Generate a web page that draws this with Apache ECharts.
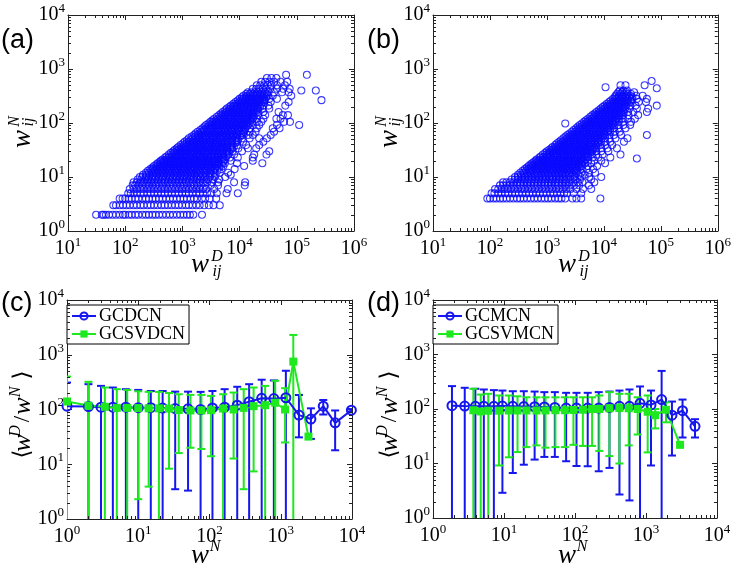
<!DOCTYPE html>
<html><head><meta charset="utf-8">
<script src="https://cdn.jsdelivr.net/npm/echarts/dist/echarts.min.js"></script>
<style>html,body{margin:0;padding:0;background:#fff}#c{width:734px;height:570px}</style>
</head><body><div id="c"></div>
<script>
// ---------- panel (a): w_ij^N vs w_ij^D (GCDCN), rows of [w^N, [w^D ...]] ----------
const rowsA = [
[2,[31,39,42,46,52,60,69,80,92,100,115,130,150,170,200,230,260,300,340,390,450,520,600,690,800,920,1050,1200,1350,1550,2200]],
[3,[62,69,80,92,105,120,140,160,185,210,245,280,320,370,430,490,560,650,750,860,990,1150,1300,1500,1750,2000,2400,2900,3500,4500]],
[4,[80,90,100,115,130,150,170,200,230,260,300,340,390,450,520,600,690,800,920,1050,1200,1400,1600,1800,2200,2500,3000,3900]],
[5,[113,125,140,160,185,210,245,280,320,370,430,490,560,650,750,860,990,1150,1300,1500,1750,2000,2300,2700,3200,4000,5900,9300]],
[6,[120,140,160,185,210,245,280,320,370,430,490,560,650,750,860,990,1150,1300,1500,1750,2000,2300,2600,3600,6200]],
[7,[135,150,170,200,230,260,300,340,390,450,520,600,690,800,920,1050,1200,1400,1600,1800,2100,2500,3100,4200,12300]],
[8,[140,160,185,210,245,280,320,370,430,490,560,650,750,860,990,1150,1300,1500,1750,2000,2300,2700,3300,4200,8000,12500]],
[9,[165,190,220,250,290,330,380,440,500,580,670,770,880,1000,1150,1350,1550,1800,2050,2400,2800,3400,4400]],
[10,[180,200,230,260,300,340,390,450,520,600,690,800,920,1050,1200,1400,1600,1800,2100,2500,3000,3700,5600]],
[11,[205,235,270,310,360,410,470,540,620,720,830,950,1100,1250,1450,1650,1900,2200,2600,3100,3800,7000]],
[12,[230,260,300,340,390,450,520,600,690,800,920,1050,1200,1400,1600,1800,2100,2500,3000,3600,4500,6300]],
[13,[250,285,330,380,435,500,575,660,760,870,1000,1150,1320,1520,1750,2000,2300,2650,3050,3500,4100]],
[14,[275,310,360,410,470,540,620,720,830,950,1100,1250,1450,1650,1900,2200,2600,3100,3700,4800,8200]],
[15,[300,345,395,455,520,600,690,790,910,1050,1200,1380,1590,1830,2100,2420,2780,3200,3700,4400]],
[16,[320,370,430,490,560,650,750,860,990,1150,1300,1500,1750,2000,2300,2700,3200,4000,5200,12000]],
[17,[350,400,460,530,610,700,800,920,1060,1220,1400,1610,1850,2130,2450,2820,3250,3750,4300,4900]],
[18,[370,420,480,550,640,730,840,970,1100,1300,1500,1700,1950,2250,2600,3000,3600,4300,5500,9000,25000]],
[19,[400,460,530,610,700,800,920,1060,1220,1400,1610,1850,2130,2450,2820,3250,3750,4300,5100]],
[20,[420,480,550,640,730,840,970,1100,1300,1500,1700,1950,2250,2600,3000,3500,4200,5200,7000,17000]],
[21,[450,520,600,690,790,910,1050,1200,1380,1590,1830,2100,2420,2780,3200,3700,4250,4900,5600]],
[23,[500,570,650,750,860,990,1150,1300,1500,1750,2000,2300,2700,3100,3600,4300,5200,6800,9300,17000]],
[24,[530,610,700,800,920,1060,1220,1400,1610,1850,2130,2450,2820,3250,3750,4300,5000,5900]],
[26,[580,660,760,870,1000,1150,1300,1500,1750,2000,2300,2700,3100,3600,4200,5000,6300,8000,18000,29500]],
[28,[630,720,830,950,1100,1260,1450,1670,1920,2200,2530,2910,3350,3850,4450,5100,5900,6600]],
[30,[690,790,910,1050,1200,1400,1600,1850,2100,2400,2800,3200,3700,4300,5000,6000,7500,11000,33000]],
[32,[740,850,980,1130,1300,1490,1710,1970,2270,2610,3000,3450,3970,4560,5250,6050,7000]],
[34,[800,920,1050,1200,1400,1600,1850,2100,2400,2800,3200,3700,4300,5000,6000,7400,9500,14000,19500]],
[36,[850,980,1130,1300,1490,1710,1970,2270,2610,3000,3450,3970,4560,5250,6050,7000,7900]],
[39,[930,1070,1250,1450,1650,1900,2200,2500,2900,3300,3800,4400,5100,6000,7200,9000,13000,22000]],
[42,[1030,1180,1360,1560,1800,2070,2380,2740,3150,3620,4160,4790,5500,6330,7280,8400]],
[45,[1100,1300,1500,1700,1950,2250,2600,3000,3400,3900,4500,5200,6100,7300,9000,11500,26000]],
[48,[1200,1380,1590,1830,2100,2420,2780,3200,3680,4230,4860,5590,6430,7400,8500,9400]],
[52,[1300,1500,1750,2000,2300,2650,3050,3500,4000,4600,5300,6200,7300,8800,11000,15000,22000,30000]],
[56,[1450,1670,1920,2200,2530,2910,3350,3850,4430,5090,5860,6740,7750,8900,10200]],
[60,[1600,1850,2100,2400,2800,3200,3700,4200,4900,5600,6500,7600,9000,11000,14000,17000,35000]],
[64,[1700,1960,2250,2590,2980,3430,3940,4530,5210,5990,6890,7920,9110,10500,11500]],
[69,[1850,2150,2450,2800,3250,3700,4300,4900,5700,6500,7500,8700,10000,12000,15000,19000,40000]],
[74,[2050,2360,2710,3120,3590,4130,4750,5460,6280,7220,8300,9550,11000,12400]],
[80,[2250,2600,3000,3400,3900,4500,5200,6000,6900,8000,9200,10500,12500,15000,20000,38000,50000]],
[86,[2450,2820,3240,3730,4290,4930,5670,6520,7500,8620,9910,11400,13200]],
[92,[2600,3000,3500,4000,4600,5300,6100,7000,8100,9300,10500,12000,14000,17000,22000,45000,110000]],
[98,[2850,3280,3770,4340,4990,5740,6600,7590,8730,10000,11500,13200,14800]],
[105,[3100,3500,4000,4600,5300,6100,7000,8100,9300,10700,12300,14000,16500,20000,24000,60000,76000]],
[112,[3350,3850,4430,5090,5860,6740,7750,8910,10200,11800,13500,15600]],
[120,[3600,4200,4800,5500,6300,7200,8300,9500,11000,12500,14500,17000,20000,26000,44000,52000]],
[130,[4000,4600,5290,6080,6990,8040,9250,10600,12200,14000,16100,17800]],
[140,[4400,5000,5700,6600,7600,8700,10000,11500,13000,15000,17500,21000,28000,57000,70000]],
[150,[4750,5460,6280,7220,8300,9550,11000,12600,14500,16700,19000]],
[160,[5100,5900,6700,7700,8900,10200,11700,13500,15500,17800,21000,26000,48000]],
[172,[5600,6440,7410,8520,9800,11300,13000,14900,17100,19700]],
[185,[6000,6900,7900,9100,10500,12000,13800,15800,18200,21000,25000,33000]],
[197,[6600,7590,8730,10000,11500,13300,15300,17600,20200,22700]],
[210,[7100,8100,9300,10700,12300,14100,16200,18600,21500,26000,32000,63000]],
[227,[7800,8970,10300,11900,13600,15700,18000,20700,23800]],
[245,[8500,9800,11200,12900,14800,17000,19500,22500,27000,35000,72000]],
[262,[9300,10700,12300,14100,16200,18700,21500,24700,27500]],
[265,[270000]],
[280,[10000,11500,13200,15200,17500,20000,23000,27000,33000,45000]],
[300,[11000,12700,14600,16700,19200,22100,25400,29000]],
[320,[11700,13500,15500,17800,20500,23500,27000,31000,38000,80000]],
[345,[13000,15000,17200,19800,22700,26200,30000]],
[370,[14000,16000,18500,21000,24500,28000,32000,40000,55000,72000]],
[400,[120000,215000]],
[430,[17000,19500,22000,25500,29000,34000,45000,58000,75000]],
[500,[20000,23000,27000,31000,36000,45000,62000]],
[580,[24000,28000,33000,40000,52000,68000]],
[680,[30000,36000,44000]],
[780,[65000,150000]]
];
// ---------- panel (b): GCMCN ----------
const rowsB = [
[4,[90,100,115,130,150,170,195,225,260,300,340,390,450,520,600,690,800,920,1050,1200,1400,1600,1800,2100,2800,3300,4000,8700]],
[5,[107,120,140,160,185,210,245,280,320,370,430,490,560,650,750,860,990,1150,1300,1500,1750,2000,2250,2950,4000]],
[6,[123,140,160,180,205,235,270,310,360,410,470,540,620,720,830,950,1100,1250,1450,1650,1900,2200,2600,3300,4300,6000]],
[7,[150,170,195,225,260,300,340,390,450,520,600,690,800,920,1050,1200,1400,1600,1850,2150,2500,3000,3700,5500]],
[8,[170,195,225,260,300,340,390,450,520,600,690,800,920,1050,1200,1400,1600,1850,2150,2500,2900,3500,4200,6800]],
[9,[240,275,310,360,410,470,540,620,720,830,950,1100,1250,1450,1650,1900,2200,2600,3100,3800,6000]],
[10,[275,310,360,410,470,540,620,720,830,950,1100,1250,1450,1650,1900,2200,2600,3100,3900,5500,9000]],
[11,[310,350,400,460,530,610,700,800,920,1050,1200,1400,1600,1850,2100,2450,2900,3600,4600]],
[12,[340,390,450,520,600,690,800,920,1050,1200,1400,1600,1850,2100,2450,2800,3300,4000,5500,7000]],
[13,[375,430,500,570,660,760,870,1000,1150,1320,1520,1750,2010,2310,2660,3060,3300]],
[14,[410,470,540,620,720,830,950,1100,1250,1450,1650,1900,2200,2500,2900,3400,4100,5000,6500]],
[15,[445,510,590,680,780,900,1030,1190,1370,1570,1810,2080,2390,2750,3160,3700]],
[16,[480,550,640,730,840,970,1100,1300,1500,1700,1950,2250,2600,3000,3500,4200,5200,7600]],
[17,[515,590,680,780,900,1030,1190,1370,1570,1810,2080,2390,2750,3160,3640,4100]],
[18,[550,630,720,830,950,1100,1250,1450,1650,1900,2200,2500,2900,3300,3900,4700,6000,10500]],
[19,[590,680,780,900,1030,1190,1370,1570,1810,2080,2390,2750,3160,3640,4200]],
[20,[630,720,830,950,1100,1250,1450,1650,1900,2200,2500,2900,3300,3800,4400,5300,6800,9000]],
[21,[660,760,870,1000,1150,1320,1520,1750,2010,2310,2660,3060,3520,4050,4700]],
[22,[38000]],
[23,[740,850,980,1100,1300,1500,1700,1950,2250,2600,3000,3400,3900,4500,5200,6400,8000,13000]],
[24,[780,900,1030,1190,1370,1570,1810,2080,2390,2750,3160,3640,4180,4800,5300]],
[26,[850,980,1100,1300,1500,1700,1950,2250,2600,3000,3400,3900,4500,5200,6100,7400,9500,19600]],
[28,[935,1080,1240,1420,1640,1880,2160,2490,2860,3290,3780,4350,5000,5800]],
[30,[1000,1150,1300,1500,1750,2000,2300,2650,3050,3500,4000,4600,5300,6200,7300,9000,12000]],
[32,[1100,1270,1460,1680,1930,2220,2550,2930,3370,3880,4460,5130,5900,6500]],
[34,[1200,1350,1550,1800,2050,2350,2700,3100,3600,4100,4700,5400,6300,7400,9000,11500,17000]],
[36,[1260,1450,1670,1920,2200,2530,2910,3350,3850,4430,5090,5860,6740]],
[39,[1400,1600,1850,2100,2400,2800,3200,3700,4200,4800,5500,6400,7400,8700,10500,14000]],
[42,[1510,1740,2000,2300,2640,3040,3500,4020,4620,5310,6110,7030,7900]],
[45,[1650,1900,2200,2500,2900,3300,3800,4400,5000,5800,6700,7700,9000,10500,13000,22500]],
[48,[1770,2040,2340,2690,3100,3560,4090,4710,5410,6220,7160,8230]],
[52,[1950,2250,2600,3000,3400,3900,4500,5200,6000,6900,7900,9100,10500,12500,16000,26000]],
[56,[2130,2450,2820,3240,3730,4290,4930,5670,6520,7500,8620,9700]],
[60,[2300,2650,3050,3500,4000,4600,5300,6100,7000,8100,9300,10700,12500,15000,20000,57000]],
[64,[2500,2880,3310,3800,4370,5030,5780,6650,7650,8800,10100]],
[69,[2750,3150,3600,4200,4800,5500,6300,7300,8400,9700,11200,13000,15500,19000]],
[74,[2960,3400,3910,4500,5180,5950,6850,7870,9050,10400,12000]],
[80,[3250,3700,4300,4900,5600,6500,7500,8600,9900,11400,13100,15000,18000,24000]],
[86,[3530,4060,4670,5370,6170,7100,8160,9390,10800,12400]],
[92,[3800,4400,5000,5800,6700,7700,8800,10100,11600,13400,15400,18000,22000,29000]],
[98,[2100,4130,4750,5460,6280,7220,8310,9550,11000,12600,14500]],
[105,[4500,5200,6000,6900,7900,9100,10500,12000,13800,15900,18300,21700,30000]],
[112,[4850,5580,6410,7380,8480,9750,11200,12900,14800,16000]],
[120,[5300,6100,7000,8000,9200,10600,12200,14000,16100,18500,21500,26000,35000]],
[130,[5780,6650,7650,8790,10100,11600,13400,15400,17700]],
[140,[6300,7200,8300,9500,10900,12500,14400,16500,19000,22000,27000,40000]],
[150,[6900,7940,9130,10500,12100,13900,16000,18400,20000]],
[160,[7400,8500,9800,11200,12900,14800,17000,19500,22500,26500,33000,57000]],
[172,[8140,9360,10800,12400,14200,16400,18800,21600]],
[185,[8900,10200,11700,13500,15500,17800,20500,23500,28000,38000,60000]],
[197,[9550,11000,12600,14500,16700,19200,22000,24300]],
[210,[10300,11800,13600,15600,18000,20700,24000,29000,36000,85000]],
[227,[11300,13000,14900,17200,19800,22700,26100]],
[245,[12400,14300,16400,18800,21600,25000,30000,41000,55000]],
[262,[13400,15400,17700,20400,23400,26900,30000]],
[280,[14500,16700,19200,22000,25500,31000,38000,57000]],
[300,[15800,18200,20900,24000,27600,31800]],
[320,[16000,18500,21000,24500,29000,37000,48000]],
[345,[17000,19500,22500,26000,30000]],
[370,[18000,21000,25000,34000]],
[400,[19000,22000,25500]],
[440,[85000]],
[460,[10700]],
[500,[19600,24000,52000]],
[600,[69000]]
];
// ---------- panel (c) ----------
const cNames = ['GCDCN', 'GCSVDCN'];
const cBlueX  = [1,2,3,4.4,6.7,10,15,22,33,50,75,110,163,245,360,540,800,1180,1800,2650,3950,5800,9800];
const cBlueY  = [115,113,110,110,110,108,108,106,104,103,100,107,110,120,139,160,158,164,79,67,115,57,97];
const cBlueHi = [310,290,270,252,235,228,218,218,212,212,210,218,235,260,290,350,340,510,184,105,149,96,102];
const cBlueLo = [0,0,0,0,0,0,0,0,3.5,3.3,0,0,0,0,0,0,0,0,31,29,81,18,92];
const cGreenX  = [1,2,3.4,5,7,10,14,19.5,27,37,54,77,105,155,218,302,416,604,835,1150,1500,2450];
const cGreenY  = [140,118,112,107,107,106,105,105,104,98,96,96,97,104,100,107,115,120,133,100,750,32];
const cGreenHi = [400,320,252,235,228,215,210,210,200,190,185,185,177,190,204,235,252,270,335,245,2300,32];
const cGreenLo = [0,0,0,0,0,2.3,3.9,0,8.3,16,20,19,14,0,12.7,3.5,7.4,0,0,25,0,32];
// ---------- panel (d) ----------
const dNames = ['GCMCN', 'GCSVMCN'];
const dBlueX  = [1.85,2.8,3.95,5.2,7.2,9.5,13.3,19,27,37,52,75,105,151,216,306,423,585,824,1175,1660,2320,3270,4900];
const dBlueY  = [115,113,112,112,112,113,112,111,110,109,107,104,104,104,104,107,112,112,127,119,149,77,93,48];
const dBlueHi = [263,245,235,228,222,218,212,212,209,204,204,198,198,198,204,209,218,228,259,218,500,137,149,65];
const dBlueLo = [0,0,0,0,0,2.9,6.7,9.5,11.8,13.2,13.2,11,9,8.9,7.2,8.3,2.7,2.1,0,9.2,0,14,30,30];
const dGreenX  = [3.7,4.7,6.0,8.5,11.7,15.5,20.7,28.7,38.4,53,72,95,129,174,220,305,422,571,764,1056,1350,1910,3020];
const dGreenY  = [95,90,93,93,94,94,94,94,94,95,95,96,97,100,100,103,104,103,100,89,77,97,22];
const dGreenHi = [235,184,190,177,177,171,164,164,164,164,164,164,164,164,177,204,190,190,164,177,100,133,22];
const dGreenLo = [0,0,0,9.2,13,16.2,20,21.5,19.5,20,20,22,21,21,17,13.7,10,21.5,34,16,44,57,22];
// ---------- axes ----------
const xRanges = [[10,1e6],[10,1e6],[1,1e4],[1,1e4]];
const yRanges = [[1,1e4],[1,1e4],[1,1e4],[1,1e4]];

const SERIF = 'Liberation Serif, "DejaVu Serif", serif';
const BLUE = '#1616ee', GREEN = '#1ee81e', SCAT = '#0a0aff', AX = '#222';
const grids = [
  {left:68, top:15, width:286, height:216},
  {left:433, top:15, width:285, height:216},
  {left:67, top:300, width:285, height:219},
  {left:433, top:300, width:284, height:218}
];
const labelRich = {
  b: {fontFamily: SERIF, fontSize: 20, color: '#000'},
  s: {fontFamily: SERIF, fontSize: 13, color: '#000', padding: [0,0,13,0]}
};
const fmt = v => '{b|10}{s|' + Math.round(Math.log10(v)) + '}';
const xAxes = [], yAxes = [];
grids.forEach((g, i) => {
  const base = {type:'log', logBase:10, gridIndex:i, splitLine:{show:false},
    axisLine:{show:true, onZero:false, lineStyle:{color:AX, width:1}},
    axisTick:{show:true, inside:true, length:5, lineStyle:{color:AX}}};
  xAxes.push(Object.assign({}, base, {min:xRanges[i][0], max:xRanges[i][1], position:'bottom',
    axisLabel:{formatter:fmt, rich:labelRich, margin:5, showMinLabel:true, showMaxLabel:true}}));
  xAxes.push(Object.assign({}, base, {min:xRanges[i][0], max:xRanges[i][1], position:'top', axisLabel:{show:false}}));
  yAxes.push(Object.assign({}, base, {min:yRanges[i][0], max:yRanges[i][1], position:'left',
    axisLabel:{formatter:fmt, rich:labelRich, margin:3, showMinLabel:true, showMaxLabel:true}}));
  yAxes.push(Object.assign({}, base, {min:yRanges[i][0], max:yRanges[i][1], position:'right', axisLabel:{show:false}}));
});

function minorTicks(gi) {
  const xe = xRanges[gi].map(v => Math.round(Math.log10(v)));
  const ye = yRanges[gi].map(v => Math.round(Math.log10(v)));
  return {
    type:'custom', xAxisIndex:2*gi, yAxisIndex:2*gi, silent:true, z:10, clip:false,
    data:[[xRanges[gi][0], yRanges[gi][0]]],
    renderItem:(params, api) => {
      const cs = params.coordSys, ch = [], L = 3;
      const ln = (x1,y1,x2,y2) => ({type:'line', shape:{x1,y1,x2,y2}, style:{stroke:AX, lineWidth:1}});
      for (let e = xe[0]; e < xe[1]; e++) for (let m = 2; m <= 9; m++) {
        const px = Math.round(api.coord([m*Math.pow(10,e), yRanges[gi][0]])[0]) + 0.5;
        ch.push(ln(px, cs.y+cs.height, px, cs.y+cs.height-L));
        ch.push(ln(px, cs.y, px, cs.y+L));
      }
      for (let e = ye[0]; e < ye[1]; e++) for (let m = 2; m <= 9; m++) {
        const py = Math.round(api.coord([xRanges[gi][0], m*Math.pow(10,e)])[1]) + 0.5;
        ch.push(ln(cs.x, py, cs.x+L, py));
        ch.push(ln(cs.x+cs.width, py, cs.x+cs.width-L, py));
      }
      return {type:'group', children:ch};
    }
  };
}

function scatterSeries(rows, gi) {
  const data = [];
  rows.forEach(([y, xs]) => xs.forEach(x => data.push([x, y])));
  return {type:'scatter', xAxisIndex:2*gi, yAxisIndex:2*gi, data, symbol:'circle', symbolSize:7,
    itemStyle:{color:'rgba(0,0,0,0)', borderColor:SCAT, borderWidth:1.05}, silent:true,
    progressive:0, large:false, animation:false};
}

function errSeries(name, xs, lo, hi, color, gi) {
  return {
    type:'custom', name, xAxisIndex:2*gi, yAxisIndex:2*gi, clip:true, silent:true,
    encode:{x:0, y:2},
    data: xs.map((x, i) => [x, lo[i], hi[i]]),
    renderItem:(params, api) => {
      const x = api.value(0), l = api.value(1), h = api.value(2);
      if (!(h > l)) return null;
      const pt = api.coord([x, h]);
      const pb = api.coord([x, l > 0 ? l : 1e-3]);
      const cw = 4, st = {stroke:color, lineWidth:2};
      const ch = [
        {type:'line', shape:{x1:pt[0], y1:pt[1], x2:pb[0], y2:pb[1]}, style:st},
        {type:'line', shape:{x1:pt[0]-cw, y1:pt[1], x2:pt[0]+cw, y2:pt[1]}, style:st}
      ];
      if (l > 0) ch.push({type:'line', shape:{x1:pb[0]-cw, y1:pb[1], x2:pb[0]+cw, y2:pb[1]}, style:st});
      return {type:'group', children:ch};
    }
  };
}

function lineSeries(name, xs, ys, color, gi, square) {
  return {
    type:'line', name, xAxisIndex:2*gi, yAxisIndex:2*gi, data: xs.map((x, i) => [x, ys[i]]),
    symbol: square ? 'rect' : 'circle', symbolSize: square ? 8 : 9,
    lineStyle:{color, width:2},
    itemStyle: square ? {color, borderColor:color, borderWidth:0} : {color:'rgba(255,255,255,0)', borderColor:color, borderWidth:2},
    clip:true, silent:true, animation:false
  };
}

const series = [
  scatterSeries(rowsA, 0), scatterSeries(rowsB, 1),
  errSeries('e1', cBlueX, cBlueLo, cBlueHi, BLUE, 2),
  lineSeries(cNames[0], cBlueX, cBlueY, BLUE, 2, false),
  errSeries('e2', cGreenX, cGreenLo, cGreenHi, GREEN, 2),
  lineSeries(cNames[1], cGreenX, cGreenY, GREEN, 2, true),
  errSeries('e3', dBlueX, dBlueLo, dBlueHi, BLUE, 3),
  lineSeries(dNames[0], dBlueX, dBlueY, BLUE, 3, false),
  errSeries('e4', dGreenX, dGreenLo, dGreenHi, GREEN, 3),
  lineSeries(dNames[1], dGreenX, dGreenY, GREEN, 3, true),
  minorTicks(0), minorTicks(1), minorTicks(2), minorTicks(3)
];

const legendBase = {orient:'vertical', top:305, backgroundColor:'#fff', borderColor:'#000', borderWidth:1,
  borderRadius:0, padding:[2,4,1,4], itemGap:0, itemWidth:24, itemHeight:9,
  textStyle:{fontFamily:SERIF, fontSize:18, color:'#000', lineHeight:13, padding:[0,0,0,-2]}, selectedMode:false};

// ---------- titles (graphic text) ----------
const SANS = 'Liberation Sans, Arial, sans-serif';
function txt(x, y, text, size, extra) {
  return {type:'text', x, y, silent:true, style:Object.assign({text, fontFamily:SERIF, fontSize:size, fill:'#000',
    align:'center', verticalAlign:'middle', textAlign:'center', textVerticalAlign:'middle'}, extra||{})};
}
const IT = {fontStyle:'italic'};
function wijTitleX(dx, sup) {
  return [txt(200+dx, 265, 'w', 27, IT), txt(217+dx, 257, sup, 16, IT), txt(217+dx, 272, 'ij', 16, IT)];
}
function wijTitleY(x0, sup) {
  return {type:'group', x:x0, y:139, rotation:Math.PI/2, children:[
    txt(0, 0, 'w', 27, IT), txt(17.5, -7.5, sup, 16, IT), txt(17, 6, 'ij', 16, IT)]};
}
function ratioTitleY(x0) {
  return {type:'group', x:x0, y:459, rotation:Math.PI/2, children:[
    txt(5, 0, '\u27E8', 23), txt(16, 0, 'w', 26, IT), txt(28, -7, 'D', 16, IT),
    txt(40, 0, '/', 23), txt(53, 0, 'w', 26, IT), txt(67, -7, 'N', 16, IT), txt(84, 0, '\u27E9', 23)]};
}
function wnTitleX(dx) {
  return [txt(200+dx, 556, 'w', 27, IT), txt(215+dx, 547, 'N', 16, IT)];
}
const panelLabels = ['(a)', '(b)', '(c)', '(d)'];
const labelPos = [[1, 41], [367, 41], [1, 304], [367, 304]];

const graphic = [
  ...panelLabels.map((s, i) => txt(labelPos[i][0], labelPos[i][1], s, 27, {fontFamily:SANS, align:'left', textAlign:'left'})),
  ...wijTitleX(0, 'D'), ...wijTitleX(367, 'D'),
  wijTitleY(22.5, 'N'), wijTitleY(389.5, 'N'),
  ratioTitleY(23), ratioTitleY(390),
  ...wnTitleX(0), ...wnTitleX(367)
];

const chart = echarts.init(document.getElementById('c'), null, {renderer:'canvas'});
chart.setOption({
  animation:false,
  backgroundColor:'#fff',
  grid: grids,
  xAxis: xAxes,
  yAxis: yAxes,
  legend: [
    Object.assign({}, legendBase, {left:67, data:cNames}),
    Object.assign({}, legendBase, {left:433, data:dNames})
  ],
  graphic,
  series
});
</script></body></html>
